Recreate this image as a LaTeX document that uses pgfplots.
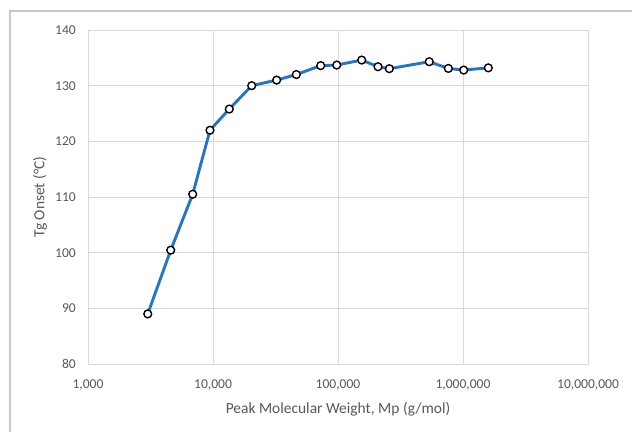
\documentclass[border=0pt]{standalone}
\usepackage{fontspec}
\setmainfont{Carlito}
\usepackage{pgfplots}
\pgfplotsset{compat=1.18}
\definecolor{txt}{RGB}{89,89,89}
\definecolor{grd}{RGB}{217,217,217}
\definecolor{frm}{RGB}{200,200,200}
\definecolor{ln}{RGB}{36,118,196}
\begin{document}
\begin{tikzpicture}[x=1bp,y=1bp]
\useasboundingbox (0,0) rectangle (632,432);
\fill[white] (0,0) rectangle (632,432);
\draw[frm, line width=1.2bp] (10,0) -- (10,421) -- (632,421);
\begin{axis}[
  at={(88bp,68bp)}, anchor=south west,
  scale only axis, width=500bp, height=334bp,
  xmode=log, log basis x=10,
  xmin=1000, xmax=10000000, ymin=80, ymax=140,
  ytick={80,90,100,110,120,130,140},
  xtick={1000,10000,100000,1000000,10000000},
  xticklabels={{1,000},{10,000},{100,000},{1,000,000},{10,000,000}},
  grid=major, major grid style={grd, line width=0.8bp},
  minor grid style={draw=none},
  axis line style={grd, line width=0.8bp},
  tick style={draw=none}, minor tick style={draw=none},
  /pgf/number format/assume math mode=true,
  ticklabel style={font=\fontsize{13.6}{16}\selectfont, text=txt},
  yticklabel style={anchor=east, inner sep=0pt, xshift=-12bp},
  xticklabel style={anchor=center, inner sep=0pt, yshift=-21bp},
  xlabel={Peak Molecular Weight, Mp (g/mol)},
  ylabel={Tg Onset (°C)},
  label style={font=\fontsize{15.5}{18}\selectfont, text=txt},
  xlabel style={at={(axis description cs:0.5,-0.1347)}, anchor=center},
  ylabel style={at={(axis description cs:-0.096,0.5)}, anchor=center},
  clip=false,
]
\addplot[ln, line width=2.9bp, mark=*, mark size=3.9bp,
  mark options={fill=white, draw=black, line width=1.4bp, solid}]
  coordinates {
  (3006,89.0) (4590,100.45) (6880,110.5) (9460,122.0) (13500,125.8)
  (20400,130.0) (32300,131.0) (46400,132.0) (72700,133.6) (97700,133.7)
  (154800,134.6) (208900,133.4) (257400,133.05) (537000,134.3)
  (762700,133.1) (1013000,132.8) (1593000,133.2)
  };
\end{axis}
\end{tikzpicture}
\end{document}
